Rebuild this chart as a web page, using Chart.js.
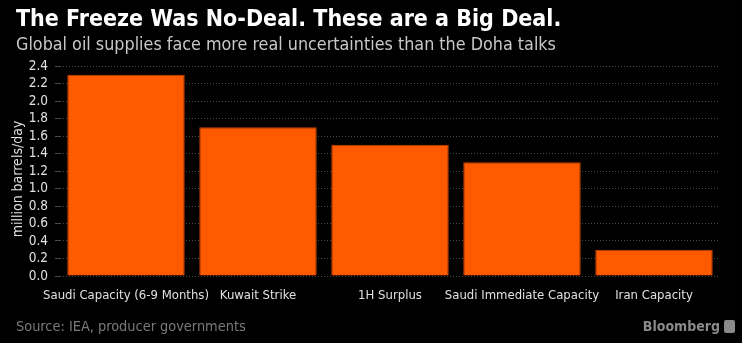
<!DOCTYPE html>
<html>
<head>
<meta charset="utf-8">
<script src="https://cdn.jsdelivr.net/npm/chart.js@4"></script>
<style>
  html, body { margin: 0; padding: 0; background: #000; }
  #wrap { position: relative; width: 742px; height: 343px; overflow: hidden; }
  #grafica { position: absolute; left: 0; top: 0; }
  .txt { position: absolute; white-space: nowrap; font-family: "DejaVu Sans Condensed", "DejaVu Sans", sans-serif; }
  #titulo { left: 16px; top: 5px; font-size: 23px; font-weight: bold; color: #fff; }
  #subtitulo { left: 16px; top: 33px; font-size: 17.8px; color: #c8c8c8; }
  #fuente { left: 16px; top: 318px; font-size: 14.4px; color: #7a7a7a; }
  #marca { right: 7px; top: 318px; font-size: 14px; font-weight: bold; color: #8a8a8a; }
  #logo { display: inline-block; width: 11px; height: 13px; background: #8a8a8a; border-radius: 2px; margin-left: 4px; vertical-align: -2px; }
</style>
</head>
<body>
<div id="wrap">
  <canvas id="grafica" width="742" height="343"></canvas>
  <div class="txt" id="titulo">The Freeze Was No-Deal. These are a Big Deal.</div>
  <div class="txt" id="subtitulo">Global oil supplies face more real uncertainties than the Doha talks</div>
  <div class="txt" id="fuente">Source: IEA, producer governments</div>
  <div class="txt" id="marca">Bloomberg<span id="logo"></span></div>
</div>
<script>
const categorias = ['Saudi Capacity (6-9 Months)', 'Kuwait Strike', '1H Surplus', 'Saudi Immediate Capacity', 'Iran Capacity'];
const valores = [2.3, 1.7, 1.5, 1.3, 0.3]; // millones de barriles por día
const ticksY = [0, 0.2, 0.4, 0.6, 0.8, 1.0, 1.2, 1.4, 1.6, 1.8, 2.0, 2.2, 2.4];

const fuente = '"DejaVu Sans Condensed", "DejaVu Sans", sans-serif';

new Chart(document.getElementById('grafica').getContext('2d'), {
    type: 'bar',
    data: {
        labels: categorias,
        datasets: [{
            data: valores,
            backgroundColor: '#ff5a00',
            borderColor: '#c84400',
            borderWidth: 1,
            barPercentage: 0.89,
            categoryPercentage: 1
        }]
    },
    options: {
        responsive: false,
        animation: false,
        layout: { padding: { top: 66, right: 22, bottom: 37, left: 0 } },
        plugins: { legend: { display: false }, tooltip: { enabled: false } },
        scales: {
            x: {
                grid: { display: false },
                border: { display: false },
                ticks: { color: '#e0e0e0', font: { family: fuente, size: 13 }, maxRotation: 0, autoSkip: false, padding: 4 },
                afterFit: (scale) => { scale.height = 30; }
            },
            y: {
                min: 0,
                max: 2.4,
                afterBuildTicks: (scale) => { scale.ticks = ticksY.map(v => ({ value: v })); },
                grid: { color: '#4a4a4a', lineWidth: 1, tickLength: 5, drawTicks: true },
                border: { display: false, dash: [1, 2] },
                ticks: {
                    color: '#e0e0e0',
                    font: { family: fuente, size: 13.5 },
                    padding: 7,
                    autoSkip: false,
                    callback: (v) => Number(v).toFixed(1)
                },
                // espacios finales para bajar un poco el título
                title: { display: true, text: 'million barrels/day    ', color: '#e0e0e0', font: { family: fuente, size: 14 }, padding: { top: 10, bottom: 0 } },
                afterFit: (scale) => { scale.width = 60; }
            }
        }
    }
});
</script>
</body>
</html>
